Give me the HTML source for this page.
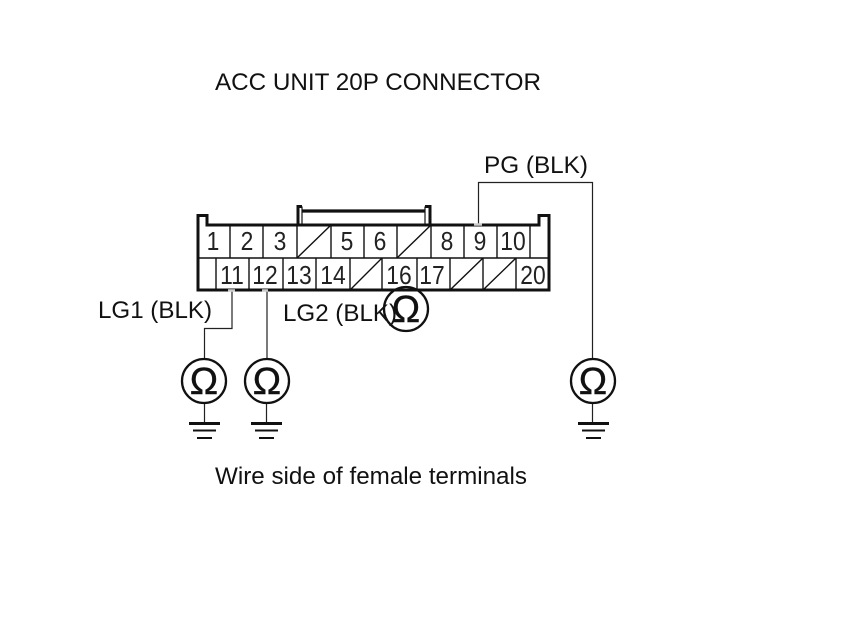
<!DOCTYPE html>
<html><head><meta charset="utf-8"><style>
html,body{margin:0;padding:0;background:#fff;width:860px;height:629px;overflow:hidden}
svg{display:block}
text{font-family:"Liberation Sans",sans-serif;fill:#111}
.l{font-size:24px}
.d{font-size:26px;text-anchor:middle;fill:#222}
.o{font-size:38px;text-anchor:middle;fill:#111;stroke:#111;stroke-width:.4px}
</style></head><body>
<svg width="860" height="629" viewBox="0 0 860 629" xmlns="http://www.w3.org/2000/svg">
<rect width="860" height="629" fill="#fff"/>
<text class="l" x="215" y="90" textLength="326" lengthAdjust="spacingAndGlyphs">ACC UNIT 20P CONNECTOR</text>
<text class="l" x="484" y="173" textLength="104" lengthAdjust="spacingAndGlyphs">PG (BLK)</text>
<text class="l" x="98" y="318" textLength="114" lengthAdjust="spacingAndGlyphs">LG1 (BLK)</text>
<text class="l" x="283" y="321" textLength="114" lengthAdjust="spacingAndGlyphs">LG2 (BLK)</text>
<text class="l" x="215" y="484" textLength="312" lengthAdjust="spacingAndGlyphs">Wire side of female terminals</text>

<!-- wires -->
<g fill="none" stroke="#222" stroke-width="1.2">
<path d="M478.5 224V182.5H592.5V359"/>
<path d="M232 291V328.5H204.5V359"/>
<path d="M267 291V359"/>
<path d="M204.5 403V423M266.5 403V423M592.5 403V423"/>
</g>

<!-- connector body -->
<g fill="none" stroke="#111">
<path stroke-width="3" d="M198 290V215.5H207V225H539V215.5H549V290Z"/>
<path stroke-width="3" d="M298 225V206.5H302M425 206.5H430V225"/>
<path stroke-width="1.2" d="M302 206.5V225M425 206.5V225"/>
<path stroke-width="3.2" d="M302 211H425"/>
<path stroke-width="1.4" d="M198 258H549"/>
<path stroke-width="1.4" d="M230 225V258M263 225V258M297 225V258M331 225V258M364 225V258M397 225V258M431 225V258M464 225V258M497 225V258M530 225V258"/>
<path stroke-width="1.4" d="M216 258V290M249 258V290M283 258V290M316 258V290M350 258V290M382 258V290M417 258V290M450 258V290M483 258V290M516 258V290"/>
<path stroke-width="1.4" d="M297 258L331 225M397 258L431 225M350 290L382 258M450 290L483 258M483 290L516 258"/>
</g>
<path d="M474 224.5H482M228 290.5H235M262 290.5H268" stroke="#ccc" stroke-width="2.5"/>

<!-- pin numbers -->
<g>
<text class="d" x="213" y="250" transform="translate(213 0) scale(.88 1) translate(-213 0)">1</text>
<text class="d" x="247" y="250" transform="translate(247 0) scale(.88 1) translate(-247 0)">2</text>
<text class="d" x="280" y="250" transform="translate(280 0) scale(.88 1) translate(-280 0)">3</text>
<text class="d" x="347" y="250" transform="translate(347 0) scale(.88 1) translate(-347 0)">5</text>
<text class="d" x="380" y="250" transform="translate(380 0) scale(.88 1) translate(-380 0)">6</text>
<text class="d" x="447" y="250" transform="translate(447 0) scale(.88 1) translate(-447 0)">8</text>
<text class="d" x="480" y="250" transform="translate(480 0) scale(.88 1) translate(-480 0)">9</text>
<text class="d" x="513" y="250" transform="translate(513 0) scale(.88 1) translate(-513 0)">10</text>
<text class="d" x="232" y="284" transform="translate(232 0) scale(.88 1) translate(-232 0)">11</text>
<text class="d" x="265" y="284" transform="translate(265 0) scale(.88 1) translate(-265 0)">12</text>
<text class="d" x="299" y="284" transform="translate(299 0) scale(.88 1) translate(-299 0)">13</text>
<text class="d" x="333" y="284" transform="translate(333 0) scale(.88 1) translate(-333 0)">14</text>
<text class="d" x="399" y="284" transform="translate(399 0) scale(.88 1) translate(-399 0)">16</text>
<text class="d" x="432" y="284" transform="translate(432 0) scale(.88 1) translate(-432 0)">17</text>
<text class="d" x="533" y="284" transform="translate(533 0) scale(.88 1) translate(-533 0)">20</text>
</g>

<!-- ohm meters -->
<g fill="none" stroke="#111" stroke-width="2.3">
<circle cx="204" cy="381" r="22"/>
<circle cx="267" cy="381" r="22"/>
<circle cx="593" cy="381" r="22"/>
<circle cx="406" cy="309" r="22"/>
</g>
<text class="o" x="204" y="394">Ω</text>
<text class="o" x="267" y="394">Ω</text>
<text class="o" x="593" y="394">Ω</text>
<text class="o" x="406" y="322">Ω</text>

<!-- grounds -->
<g stroke="#111" fill="none">
<path stroke-width="3" d="M189 423.5H220M251 423.5H282M578 423.5H609"/>
<path stroke-width="2" d="M193 430.5H216M255 430.5H278M582 430.5H605"/>
<path stroke-width="2" d="M197 438H212M259 438H274M586 438H601"/>
</g>
</svg>
</body></html>
